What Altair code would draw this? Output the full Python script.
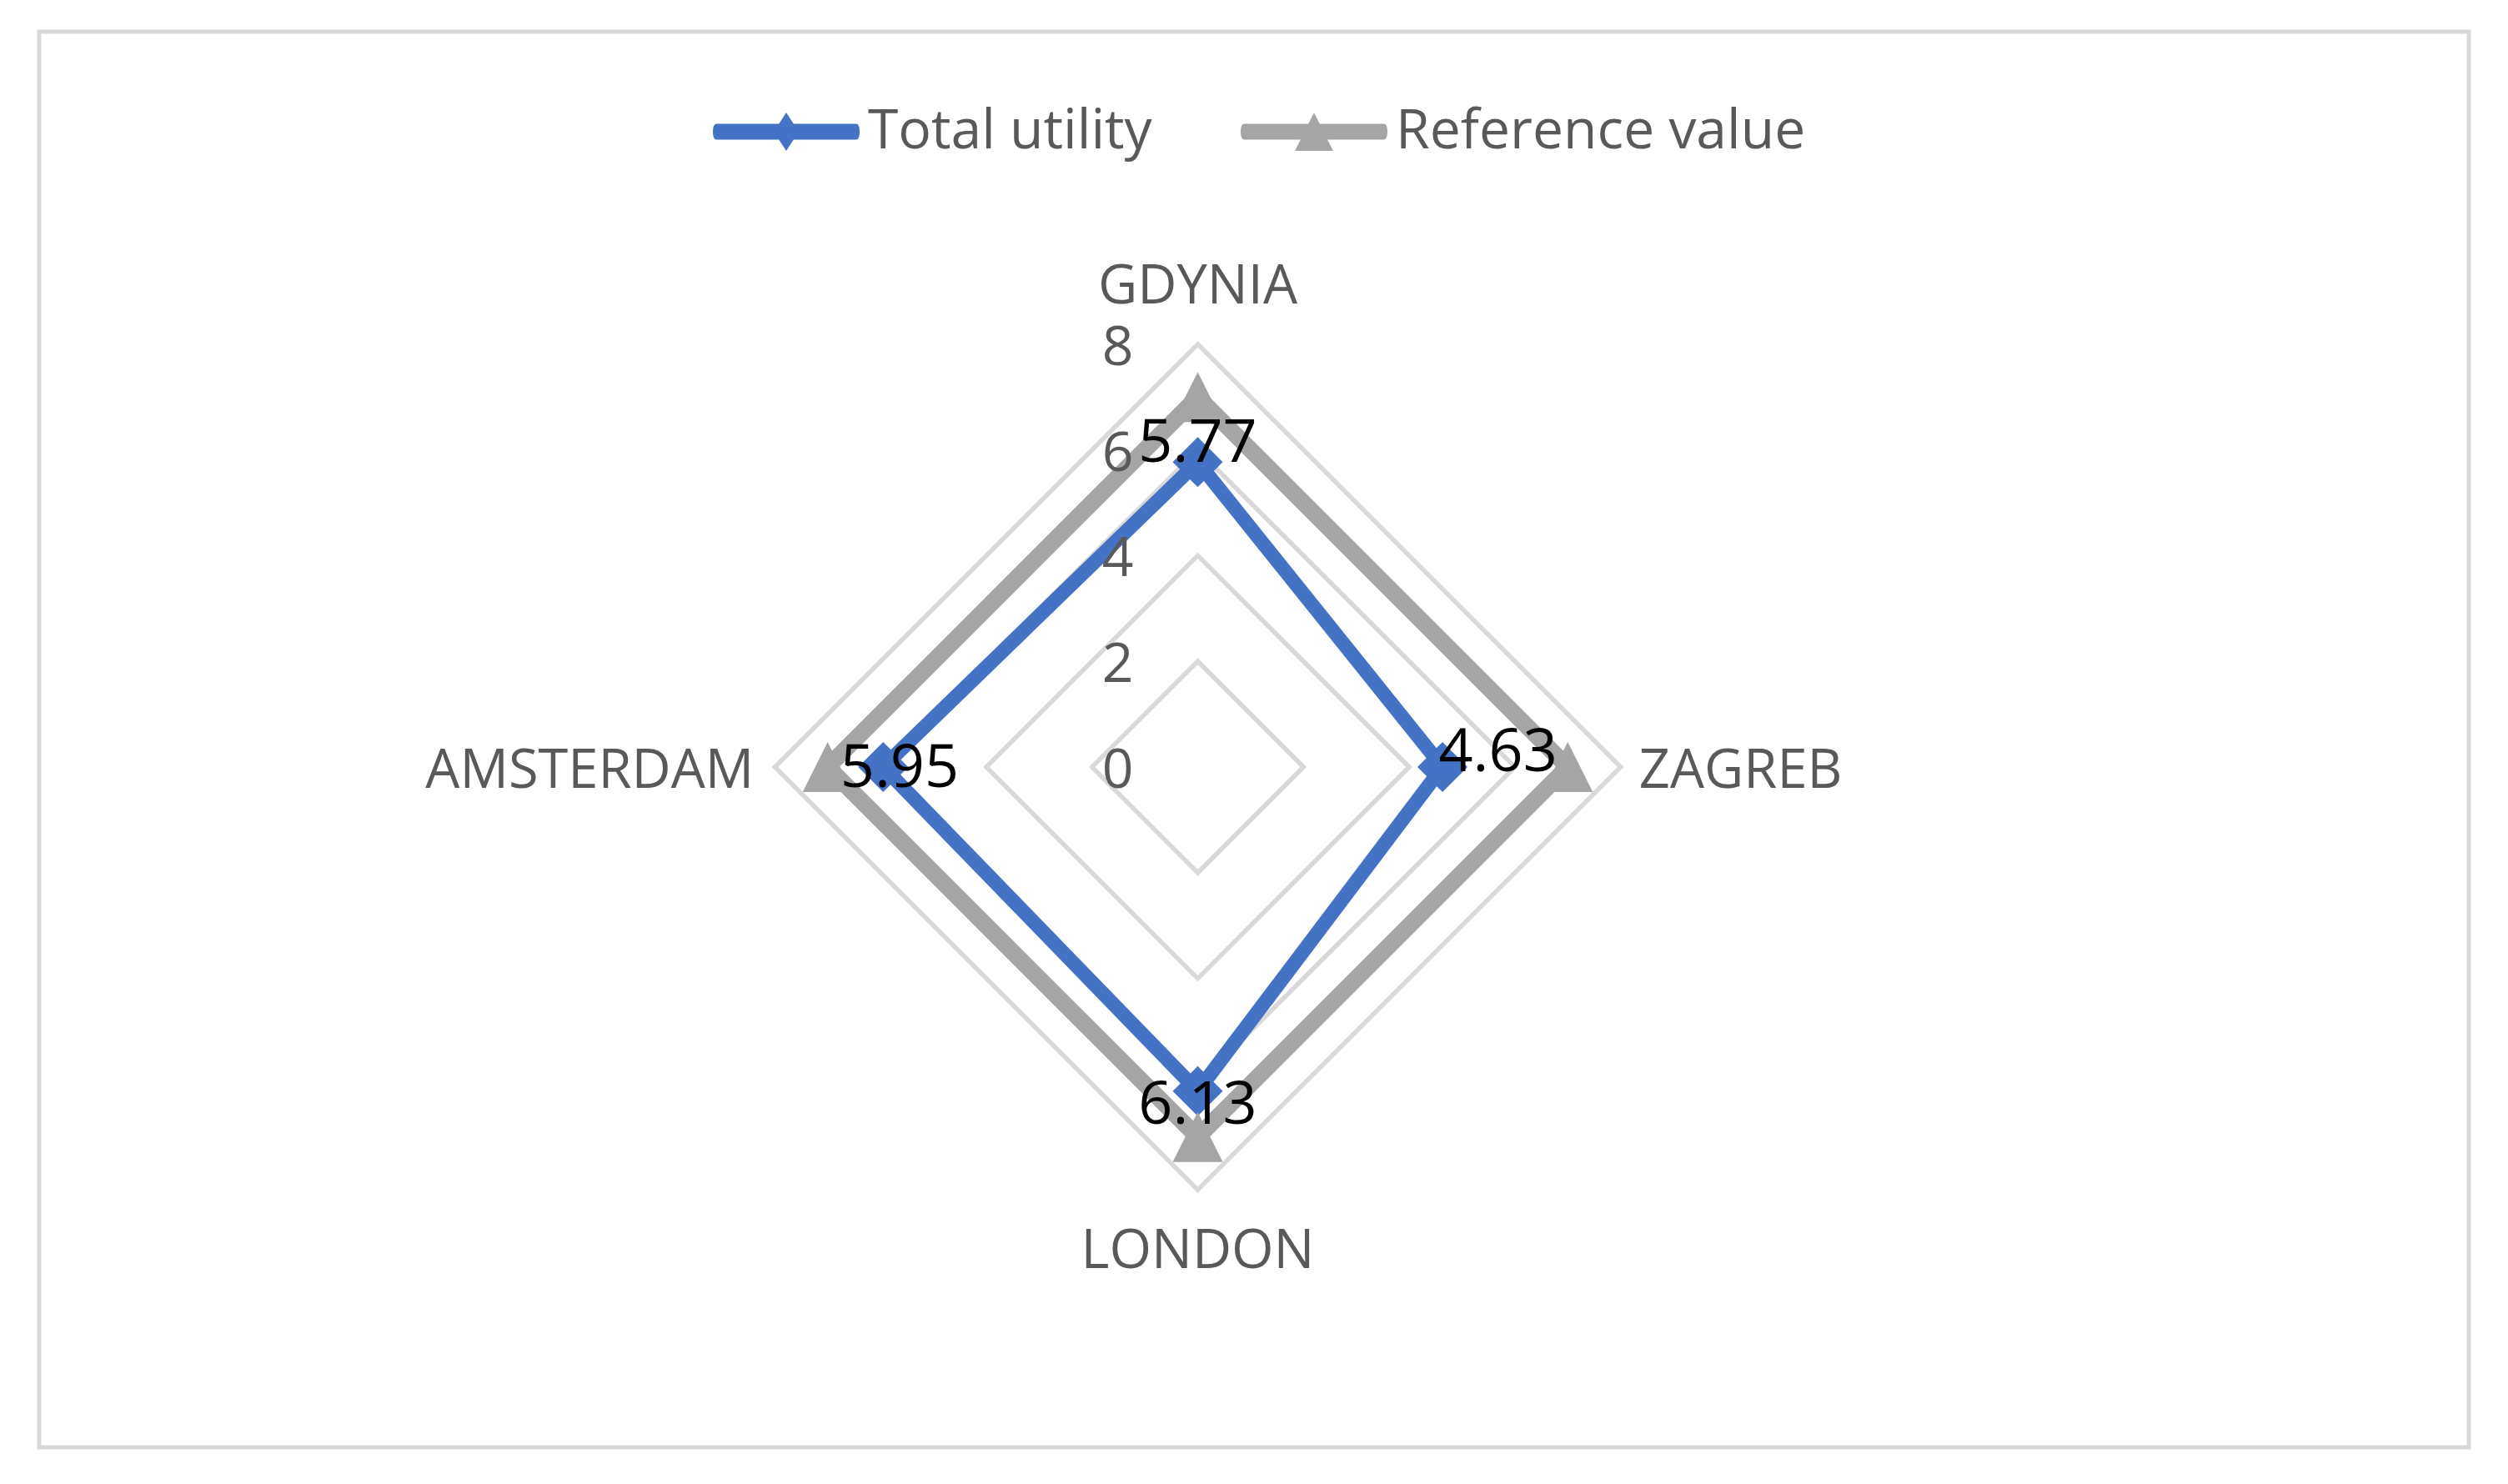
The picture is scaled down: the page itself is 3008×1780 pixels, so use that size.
import altair as alt
import pandas as pd

# ---- data ----
cities = ["GDYNIA", "ZAGREB", "LONDON", "AMSTERDAM"]
total_utility = [5.77, 4.63, 6.13, 5.95]
reference_value = [7, 7, 7, 7]
series_names = ["Total utility", "Reference value"]
ring_values = [2, 4, 6, 8]
tick_values = [0, 2, 4, 6, 8]

BLUE = "#4472C4"
GREY = "#A5A5A5"
GRID = "#D9D9D9"
TEXT = "#595959"
FONT = "Open Sans"

n = len(cities)
path_idx = list(range(n)) + [0, 1]  # close polygon with a proper join

series_rows = []
for sname, vals in zip(series_names, [total_utility, reference_value]):
    for k, i in enumerate(path_idx):
        series_rows.append({"series": sname, "k": k, "idx": i, "city": cities[i], "value": vals[i]})
series_df = pd.DataFrame(series_rows)

point_rows = []
for sname, vals in zip(series_names, [total_utility, reference_value]):
    for i in range(n):
        point_rows.append({"series": sname, "idx": i, "city": cities[i], "value": vals[i]})
point_df = pd.DataFrame(point_rows)

grid_rows = []
for r in ring_values:
    for k, i in enumerate(path_idx):
        grid_rows.append({"ring": r, "k": k, "idx": i, "value": r})
grid_df = pd.DataFrame(grid_rows)

cat_df = pd.DataFrame({"city": cities, "idx": list(range(n)), "value": [max(ring_values)] * n})
tick_df = pd.DataFrame({"tick": tick_values})
legend_df = pd.DataFrame({"series": series_names})

xs = alt.Scale(domain=[-21.916, 24.045], nice=False, zero=False)
ys = alt.Scale(domain=[-12.871, 13.912], nice=False, zero=False)

polar = dict(
    angle=f"datum.idx * 2 * PI / {n}",
    x="datum.value * sin(datum.angle)",
    y="datum.value * cos(datum.angle)",
)

def xy(xf="x", yf="y"):
    return dict(x=alt.X(f"{xf}:Q", scale=xs, axis=None), y=alt.Y(f"{yf}:Q", scale=ys, axis=None))

grid = alt.Chart(grid_df).transform_calculate(**polar).mark_line(
    color=GRID, strokeWidth=5.5, strokeJoin="miter"
).encode(**xy(), detail="ring:N", order="k:Q")

def series_line(name, color, width):
    return alt.Chart(series_df).transform_filter(
        alt.datum.series == name
    ).transform_calculate(**polar).mark_line(
        color=color, strokeWidth=width, strokeJoin="miter"
    ).encode(**xy(), order="k:Q")

line_total = series_line("Total utility", BLUE, 17)
line_ref = series_line("Reference value", GREY, 20)

DIAMOND = "M0,-1L1,0L0,1L-1,0Z"
TRIANGLE = "M0,-1L1,1L-1,1Z"

def markers(name, color, shape):
    return alt.Chart(point_df).transform_filter(
        alt.datum.series == name
    ).transform_calculate(**polar).mark_point(
        filled=True, color=color, shape=shape, size=3600, opacity=1, strokeWidth=0
    ).encode(**xy())

mk_total = markers("Total utility", BLUE, DIAMOND)
mk_ref = markers("Reference value", GREY, TRIANGLE)

# data labels for Total utility
labels = alt.Chart(point_df).transform_filter(
    alt.datum.series == "Total utility"
).transform_calculate(**polar).transform_calculate(
    lx="datum.x + [0, 1.05, 0, 0.31][datum.idx]",
    ly="datum.y + [0.44, 0.36, -0.18, 0.06][datum.idx]",
    txt="format(datum.value, '.2f')",
).mark_text(
    font=FONT, fontSize=72, color="#000000", align="center", baseline="middle", dy=6
).encode(**xy("lx", "ly"), text="txt:N")

# category labels
def cat_layer(idxs, align, dx, dy):
    return alt.Chart(cat_df).transform_filter(
        alt.FieldOneOfPredicate(field="idx", oneOf=idxs)
    ).transform_calculate(**polar).mark_text(
        font=FONT, fontSize=65, color=TEXT, align=align, baseline="middle", dx=dx, dy=dy
    ).encode(**xy(), text="city:N")

cat_top = cat_layer([0], "center", 0, -69)
cat_bottom = cat_layer([2], "center", 0, 74)
cat_right = cat_layer([1], "left", 22, 5)
cat_left = cat_layer([3], "right", -25, 5)

# radial axis tick labels
ticks = alt.Chart(tick_df).transform_calculate(
    x="0", y="datum.tick"
).mark_text(
    font=FONT, fontSize=66, color=TEXT, align="right", baseline="middle", dx=-77, dy=5
).encode(**xy(), text="tick:Q")

# legend (drawn by the library from the series domain)
leg_common = dict(
    title=None, orient="none", direction="horizontal", legendX=808, legendY=32,
    symbolSize=30976, labelFont=FONT, labelFontSize=66, labelColor=TEXT,
    labelOffset=10, columnPadding=106, labelLimit=2000, padding=0,
    symbolStrokeWidth=0, symbolOpacity=1,
)
LEG_TOTAL = ("M-0.95,-0.108L0.95,-0.108Q1.0,-0.108 1.0,0 Q1.0,0.108 0.95,0.108"
             "L-0.95,0.108Q-1.0,0.108 -1.0,0 Q-1.0,-0.108 -0.95,-0.108Z "
             "M0,-0.26L0.17,0L0,0.26L-0.17,0Z")
LEG_REF = ("M-0.95,-0.108L0.95,-0.108Q1.0,-0.108 1.0,0 Q1.0,0.108 0.95,0.108"
           "L-0.95,0.108Q-1.0,0.108 -1.0,0 Q-1.0,-0.108 -0.95,-0.108Z "
           "M0,-0.26L0.26,0.26L-0.26,0.26Z")

legend_layer = alt.Chart(legend_df).transform_filter("false").transform_calculate(
    x="0", y="0"
).mark_point(filled=True, strokeWidth=0).encode(
    **xy(),
    color=alt.Color("series:N", scale=alt.Scale(domain=series_names, range=[BLUE, GREY]),
                    legend=alt.Legend(**leg_common)),
    shape=alt.Shape("series:N", scale=alt.Scale(domain=series_names, range=[LEG_TOTAL, LEG_REF]),
                    legend=alt.Legend(**leg_common)),
)

chart = alt.layer(
    grid, line_total, line_ref, mk_total, mk_ref, labels,
    cat_top, cat_bottom, cat_right, cat_left, ticks, legend_layer
).properties(
    width=2914, height=1698,
    padding={"left": 39, "top": 30, "right": 39, "bottom": 36},
    autosize=alt.AutoSizeParams(type="none"),
).configure_view(
    stroke=GRID, strokeWidth=5
)

chart.save("out.html", embed_options={"renderer": "svg", "actions": False})
